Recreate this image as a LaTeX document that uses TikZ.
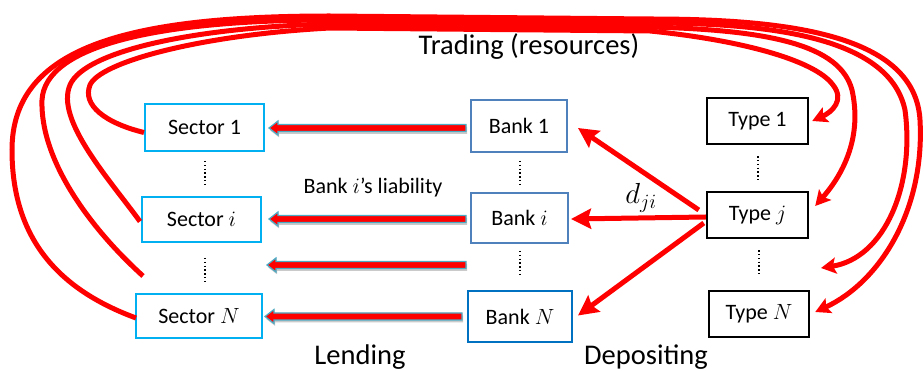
\RequirePackage{fix-cm}
\documentclass[tikz,border=0pt]{standalone}
\usepackage{fontspec}
\setmainfont{Carlito}
\usetikzlibrary{arrows.meta,calc,shadows}
\definecolor{secblue}{RGB}{0,176,240}
\definecolor{bankblue}{RGB}{79,129,189}
\definecolor{bankdark}{RGB}{0,112,192}
\definecolor{arrowline}{RGB}{75,172,198}
\definecolor{pured}{RGB}{255,0,0}
\tikzset{
  boxtext/.style={font=\fontsize{22}{26}\selectfont, inner sep=0pt, line width=2pt},
  secbox/.style={boxtext, draw=secblue},
  bankbox/.style={boxtext, draw=bankblue},
  typebox/.style={boxtext, draw=black, line width=2.4pt},
  bigtext/.style={font=\fontsize{28.5}{32}\selectfont, inner sep=0pt},
  dots/.style={line width=1.6pt, dash pattern=on 1.4pt off 2.4pt},
  trade/.style={draw=pured, line width=5pt},
  tradehead/.style={-{Stealth[length=15pt,width=16pt,inset=3pt]}},
  deposit/.style={draw=pured, line width=5pt, -{Stealth[length=20pt,width=20pt,inset=3pt]}},
  blockarr/.style={fill=pured, draw=arrowline, line width=1.2pt, line join=miter,
    drop shadow={shadow xshift=1.2pt, shadow yshift=-2.5pt, opacity=0.35, fill=black!60}},
}
\newcommand\blockarrow[2]{%
  \path[blockarr] let \p1=(#1), \p2=(#2) in
    (\x1,\y1+3.5pt) -- (\x2+9pt,\y1+3.5pt) -- (\x2+9pt,\y1+7pt) -- (\x2,\y1)
    -- (\x2+9pt,\y1-7pt) -- (\x2+9pt,\y1-3.5pt) -- (\x1,\y1-3.5pt) -- cycle;}
\begin{document}
\begin{tikzpicture}[x=1pt,y=-1pt]
\useasboundingbox (0,0) rectangle (924,371);
% boxes
\node[secbox, minimum width=119pt, minimum height=47pt] (s1) at (204.5,127.5) {Sector 1};
\node[secbox, minimum width=119pt, minimum height=45pt] (si) at (201.5,219.5) {Sector $i$};
\node[secbox, minimum width=126pt, minimum height=44pt] (sN) at (199,316) {Sector $N$};
\node[bankbox, minimum width=96pt, minimum height=52pt] (b1) at (519,126) {Bank 1};
\node[bankbox, minimum width=97pt, minimum height=50pt] (bi) at (519.5,218) {Bank $i$};
\node[bankbox, draw=bankdark, minimum width=104pt, minimum height=51pt] (bN) at (520,316.5) {Bank $N$};
\node[typebox, minimum width=101pt, minimum height=46pt] (t1) at (757.5,121) {Type 1};
\node[typebox, minimum width=101pt, minimum height=46pt] (tj) at (757.5,215) {Type $j$};
\node[typebox, minimum width=100pt, minimum height=46pt] (tN) at (759,314) {Type $N$};
% texts
\node[bigtext] (trading) at (529,47) {Trading (resources)};
\node[bigtext, anchor=base] (lending) at (360,364) {Lending};
\node[bigtext, anchor=base] (depositing) at (646,364) {Depositing};
\node[font=\fontsize{22}{26}\selectfont, inner sep=0pt, anchor=base] (liab) at (373,194) {Bank $i$’s liability};
\node[font=\fontsize{29}{32}\selectfont, inner sep=0pt] (dji) at (641,198) {$d_{ji}$};
% dots
\draw[dots] ($(s1.south)+(0.5,9)$) -- ($(si.north)+(3.5,-10)$);
\draw[dots] ($(si.south)+(3.5,15)$) -- ($(sN.north)+(6,-9)$);
\draw[dots] ($(b1.south)+(1,8)$) -- ($(bi.north)+(0.5,-6)$);
\draw[dots] ($(bi.south)+(0.5,7)$) -- ($(bN.north)+(0,-14)$);
\draw[dots] ($(t1.south)+(0.5,11)$) -- ($(tj.north)+(0.5,-9)$);
\draw[dots] ($(tj.south)+(1.5,11)$) -- ($(tN.north)+(0,-14)$);
% lending arrows
\coordinate (a3s) at (466,265);
\coordinate (a3e) at (267,265);
\blockarrow{$(b1.west)+(-4,2)$}{$(s1.east)+(4,0)$}
\blockarrow{$(bi.west)+(-4,1)$}{$(si.east)+(7,0)$}
\blockarrow{a3s}{a3e}
\blockarrow{$(bN.west)+(-5,0)$}{$(sN.east)+(2,0)$}
% depositing arrows
\draw[deposit] ($(tj.west)+(-7,-5)$) -- ($(b1.east)+(10,2)$);
\draw[deposit] ($(tj.west)+(0,2)$) -- ($(bi.east)+(2,1)$);
\draw[deposit] ($(tj.west)+(-2,8)$) -- ($(bN.east)+(5,-1)$);
% trading curves
\draw[trade, tradehead] ($(s1.west)+(0,5)$)
  .. controls (105,123) and (82,105) .. (90,85)
  .. controls (100,62) and (200,35) .. (330,28)
  -- (650,31)
  .. controls (740,40) and (815,60) .. (833,85)
  .. controls (845,100) and (832,112) .. ($(t1.east)+(3,0)$);
\draw[trade, tradehead] ($(si.west)+(-1,2)$)
  .. controls (110,180) and (55,120) .. (70,85)
  .. controls (85,50) and (200,27) .. (330,24)
  -- (650,27)
  .. controls (770,30) and (840,45) .. (852,90)
  .. controls (862,135) and (845,172) .. ($(tj.east)+(6,-9)$);
\coordinate (c3s) at (143,276);
\coordinate (c3e) at (821,268);
\draw[trade, tradehead] (c3s)
  .. controls (90,228) and (40,160) .. (42,100)
  .. controls (45,45) and (160,20) .. (330,20)
  -- (650,23)
  .. controls (780,23) and (890,40) .. (905,110)
  .. controls (915,185) and (885,258) .. (c3e);
\draw[trade, tradehead] ($(sN.west)+(1,2)$)
  .. controls (60,290) and (12,240) .. (12,150)
  .. controls (12,50) and (120,16) .. (330,16)
  -- (650,19)
  .. controls (790,19) and (915,35) .. (920,120)
  .. controls (925,210) and (880,282) .. ($(tN.east)+(5,-2)$);
\end{tikzpicture}
\end{document}
